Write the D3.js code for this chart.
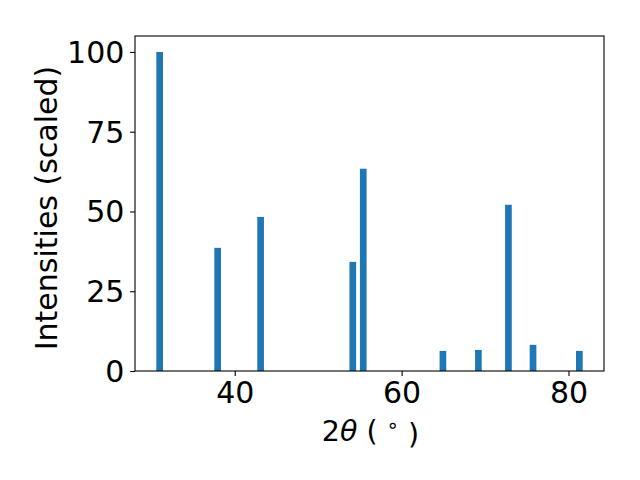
<!DOCTYPE html>
<html>
<head>
<meta charset="utf-8">
<script src="https://cdn.jsdelivr.net/npm/d3@7"></script>
<style>
  html, body { margin: 0; padding: 0; background: #fff; }
  svg { display: block; font-family: "DejaVu Sans", sans-serif; }
</style>
</head>
<body>
<script>
// Data
const twoTheta = [31.0, 37.95, 43.1, 54.15, 55.4, 64.95, 69.2, 72.8, 75.75, 81.3];
const intensities = [100, 38.6, 48.3, 34.2, 63.4, 6.3, 6.6, 52.1, 8.2, 6.3];
const barWidth = 0.8;
const xTicks = [40, 60, 80];
const yTicks = [0, 25, 50, 75, 100];
const yLabel = "Intensities (scaled)";

const W = 640, H = 480;
const margin = { left: 135, top: 36, right: 36, bottom: 109 };
const iw = W - margin.left - margin.right;
const ih = H - margin.top - margin.bottom;

const data = twoTheta.map((x, i) => ({ x, y: intensities[i] }));

const lo = d3.min(twoTheta) - barWidth / 2;
const hi = d3.max(twoTheta) + barWidth / 2;
const pad = (hi - lo) * 0.05;
const x = d3.scaleLinear().domain([lo - pad, hi + pad]).range([0, iw]);
const y = d3.scaleLinear().domain([0, d3.max(intensities) * 1.05]).range([ih, 0]);

const svg = d3.select("body").append("svg").attr("width", W).attr("height", H);
const g = svg.append("g").attr("transform", `translate(${margin.left},${margin.top})`);

g.selectAll("rect.bar").data(data).enter().append("rect")
  .attr("class", "bar")
  .attr("x", d => x(d.x - barWidth / 2))
  .attr("width", d => x(d.x + barWidth / 2) - x(d.x - barWidth / 2))
  .attr("y", d => y(d.y))
  .attr("height", d => y(0) - y(d.y))
  .attr("fill", "#1f77b4");

const fs = 30;

const xAxis = g.append("g").attr("transform", `translate(0,${ih})`)
  .call(d3.axisBottom(x).tickValues(xTicks).tickSize(4.9).tickPadding(5).tickFormat(d3.format("d")));
const yAxis = g.append("g")
  .call(d3.axisLeft(y).tickValues(yTicks).tickSize(4.9).tickPadding(5.8).tickFormat(d3.format("d")));

[xAxis, yAxis].forEach(a => {
  a.select(".domain").remove();
  a.selectAll(".tick line").attr("stroke", "#000").attr("stroke-width", 1.1);
  a.selectAll(".tick text").attr("fill", "#000").style("font-size", fs + "px")
    .style("font-family", "DejaVu Sans, sans-serif");
});
yAxis.selectAll(".tick text").attr("dy", "0.35em");
xAxis.selectAll(".tick text").attr("y", 31.5).attr("dy", 0);

// Frame (spines)
g.append("rect").attr("x", 0).attr("y", 0).attr("width", iw).attr("height", ih)
  .attr("fill", "none").attr("stroke", "#000").attr("stroke-width", 1.1);

// X label with mathtext-like formatting
const xfs = 28.5;
const xl = svg.append("text")
  .attr("x", margin.left + iw / 2 + 1).attr("y", 440.5)
  .attr("text-anchor", "middle").style("font-size", xfs + "px").attr("fill", "#000");
xl.append("tspan").text("2");
xl.append("tspan").style("font-style", "italic").text("θ");
xl.append("tspan").text(" ( ");
xl.append("tspan").attr("dy", "-0.42em").style("font-size", (xfs * 0.7) + "px").text("∘");
xl.append("tspan").attr("dy", "0.42em").text(" )");

// Y label
svg.append("text")
  .attr("transform", `translate(57,208) rotate(-90)`)
  .attr("text-anchor", "middle").style("font-size", fs + "px").attr("fill", "#000")
  .text(yLabel);
</script>
</body>
</html>
